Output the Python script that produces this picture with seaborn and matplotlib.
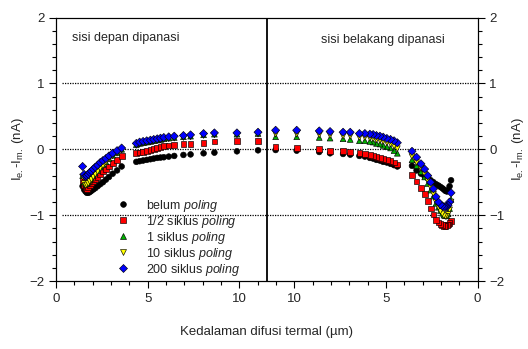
import matplotlib
matplotlib.use("Agg")
import matplotlib.pyplot as plt
import seaborn as sns
import numpy as np
import pandas as pd
from matplotlib.ticker import FixedLocator

sns.set_style("ticks")
plt.rcParams['font.family'] = ['Liberation Sans', 'DejaVu Sans']
plt.rcParams['mathtext.fontset'] = 'custom'
plt.rcParams['mathtext.rm'] = 'Liberation Sans'
plt.rcParams['mathtext.it'] = 'Liberation Sans:italic'

# ---------------- data ----------------
series_labels = ["belum $\\it{poling}$", "1/2 siklus $\\it{poling}$", "1 siklus $\\it{poling}$",
                 "10 siklus $\\it{poling}$", "200 siklus $\\it{poling}$"]

depth_rise = [1.45, 1.53, 1.61, 1.68, 1.76, 1.84, 1.93, 2.03, 2.14, 2.27, 2.41, 2.56, 2.72, 2.89, 3.09, 3.33, 3.58]
depth_flat = [4.38, 4.56, 4.75, 4.95, 5.15, 5.33, 5.52, 5.70, 5.88, 6.15, 6.45, 6.95, 7.34, 8.05, 8.64, 9.87, 11.02]

# front side heated (sisi depan dipanasi)
front_belum = [-0.56, -0.61, -0.64, -0.66, -0.66, -0.65, -0.63, -0.61, -0.59, -0.56, -0.53, -0.50, -0.46, -0.42, -0.37, -0.32, -0.26,
               -0.19, -0.18, -0.17, -0.16, -0.15, -0.14, -0.13, -0.125, -0.12, -0.11, -0.10, -0.085, -0.077, -0.06, -0.05, -0.03, -0.015]
front_half = [-0.48, -0.55, -0.59, -0.60, -0.58, -0.55, -0.52, -0.49, -0.46, -0.42, -0.37, -0.33, -0.30, -0.26, -0.21, -0.16, -0.10,
              -0.06, -0.05, -0.04, -0.03, -0.01, 0.00, 0.02, 0.03, 0.05, 0.06, 0.07, 0.08, 0.08, 0.10, 0.12, 0.13, 0.13]
front_1 = [-0.40, -0.50, -0.53, -0.52, -0.50, -0.47, -0.44, -0.40, -0.36, -0.32, -0.27, -0.23, -0.19, -0.14, -0.09, -0.05, 0.00,
           0.07, 0.09, 0.10, 0.11, 0.12, 0.13, 0.14, 0.15, 0.16, 0.17, 0.18, 0.19, 0.20, 0.22, 0.23, 0.23, 0.24]
front_10 = [-0.42, -0.52, -0.55, -0.54, -0.52, -0.49, -0.46, -0.42, -0.38, -0.34, -0.29, -0.25, -0.20, -0.15, -0.10, -0.06, -0.01,
            0.06, 0.08, 0.09, 0.10, 0.11, 0.12, 0.13, 0.14, 0.15, 0.16, 0.17, 0.18, 0.19, 0.21, 0.22, 0.22, 0.23]
front_200 = [-0.26, -0.38, -0.41, -0.40, -0.38, -0.35, -0.33, -0.30, -0.27, -0.24, -0.20, -0.17, -0.14, -0.10, -0.06, -0.02, 0.02,
             0.09, 0.11, 0.12, 0.13, 0.14, 0.15, 0.16, 0.17, 0.18, 0.19, 0.20, 0.21, 0.22, 0.24, 0.25, 0.25, 0.26]

# back side heated (sisi belakang dipanasi)
back_belum = [-0.47, -0.56, -0.62, -0.64, -0.63, -0.61, -0.59, -0.57, -0.55, -0.53, -0.50, -0.47, -0.44, -0.41, -0.37, -0.32, -0.25,
              -0.26, -0.24, -0.22, -0.20, -0.19, -0.17, -0.16, -0.14, -0.13, -0.11, -0.10, -0.08, -0.07, -0.06, -0.04, -0.02, -0.01]
back_half = [-1.09, -1.12, -1.14, -1.15, -1.16, -1.16, -1.15, -1.13, -1.11, -1.07, -0.99, -0.90, -0.79, -0.68, -0.59, -0.49, -0.39,
             -0.23, -0.20, -0.18, -0.16, -0.15, -0.13, -0.12, -0.10, -0.09, -0.07, -0.06, -0.04, -0.03, -0.02, 0.00, 0.02, 0.03]
back_1 = [-0.76, -0.90, -0.98, -1.01, -1.01, -1.00, -0.97, -0.93, -0.88, -0.82, -0.71, -0.62, -0.52, -0.42, -0.34, -0.25, -0.16,
          -0.06, -0.02, 0.02, 0.04, 0.06, 0.08, 0.09, 0.11, 0.12, 0.13, 0.13, 0.15, 0.16, 0.17, 0.18, 0.19, 0.19]
back_10 = [-0.80, -0.92, -0.99, -1.02, -1.02, -1.01, -0.98, -0.94, -0.88, -0.80, -0.68, -0.58, -0.48, -0.38, -0.29, -0.20, -0.11,
           0.01, 0.05, 0.08, 0.10, 0.12, 0.135, 0.145, 0.16, 0.17, 0.18, 0.18, 0.20, 0.20, 0.21, 0.22, 0.23, 0.23]
back_200 = [-0.66, -0.80, -0.85, -0.87, -0.87, -0.87, -0.86, -0.84, -0.80, -0.72, -0.60, -0.50, -0.40, -0.30, -0.22, -0.12, -0.03,
            0.10, 0.13, 0.15, 0.165, 0.185, 0.20, 0.21, 0.225, 0.23, 0.24, 0.24, 0.26, 0.26, 0.27, 0.28, 0.29, 0.29]

x_tick_labels = ["0", "5", "10", "10", "5", "0"]
center = 11.5          # sample mid-plane shown as vertical line
span = 2 * center

# ---------------- build table ----------------
depth = np.array(depth_rise + depth_flat)
front = [front_belum, front_half, front_1, front_10, front_200]
back = [back_belum, back_half, back_1, back_10, back_200]
rows = []
for lab, f, b in zip(series_labels, front, back):
    for d, v in zip(depth, f):
        rows.append((d, v, lab))
    for d, v in zip(depth, b):
        rows.append((span - d, v, lab))
df = pd.DataFrame(rows, columns=["pos", "val", "seri"])

palette = dict(zip(series_labels, ["#000000", "#FF0000", "#00B000", "#FFFF00", "#0000FF"]))
markers = dict(zip(series_labels, ["o", "s", "^", "v", "D"]))

# ---------------- figure ----------------
fig = plt.figure(figsize=(5.28, 3.49), dpi=100)
ax = fig.add_axes([0.1061, 0.1948, 0.7985, 0.7546])

for y in (1, 0, -1):
    ax.plot([0.35, span], [y, y], color="black", lw=0.9, ls=(0, (1, 1)), zorder=1)
ax.axvline(center, color="black", lw=1.3, zorder=1)

sns.scatterplot(data=df, x="pos", y="val", hue="seri", style="seri",
                palette=palette, markers=markers, hue_order=series_labels,
                style_order=series_labels, s=17, edgecolor="black",
                linewidth=0.45, ax=ax, zorder=3)

ax.set_xlim(0, span)
ax.set_ylim(-2, 2)
ax.set_xticks([0, 5, 10, span - 10, span - 5, span])
ax.set_xticklabels(x_tick_labels)
ax.xaxis.set_minor_locator(FixedLocator([i for i in range(0, 24) if i not in (0, 5, 10, 13, 18, 23)]))
ax.set_yticks([-2, -1, 0, 1, 2])
ax.yaxis.set_minor_locator(FixedLocator(np.arange(-2, 2.01, 0.2)))

ylabel = r"I$_{\rm e.}$-I$_{\rm m.}$ (nA)"
ax.set_xlabel("Kedalaman difusi termal (\u00b5m)", fontsize=9.5)
ax.xaxis.set_label_coords(0.5, -0.17)
ax.set_ylabel(ylabel, fontsize=9.5)
ax.yaxis.set_label_coords(-0.072, 0.5)

ax2 = ax.twinx()
ax2.set_ylim(-2, 2)
ax2.set_yticks([-2, -1, 0, 1, 2])
ax2.yaxis.set_minor_locator(FixedLocator(np.arange(-2, 2.01, 0.2)))
ax2.set_ylabel(ylabel, fontsize=9.5)
ax2.yaxis.set_label_coords(1.077, 0.5)

for a in (ax, ax2):
    a.tick_params(which="major", direction="out", length=5, width=0.8, labelsize=9.5, color="black")
    a.tick_params(which="minor", direction="out", length=3, width=0.8, color="black")
    for sp in a.spines.values():
        sp.set_visible(True)
        sp.set_linewidth(0.8)
        sp.set_color("black")

ax.text(0.0387, 0.922, "sisi depan dipanasi", transform=ax.transAxes, fontsize=9, va="center", ha="left")
ax.text(0.921, 0.915, "sisi belakang dipanasi", transform=ax.transAxes, fontsize=9, va="center", ha="right")

sns.move_legend(ax, "lower left", bbox_to_anchor=(0.144, 0.012), frameon=False, title=None,
                fontsize=9, borderpad=0, handlelength=1.0, handletextpad=1.34, labelspacing=0.0,
                borderaxespad=0)

fig.savefig("out.png", dpi=100)
